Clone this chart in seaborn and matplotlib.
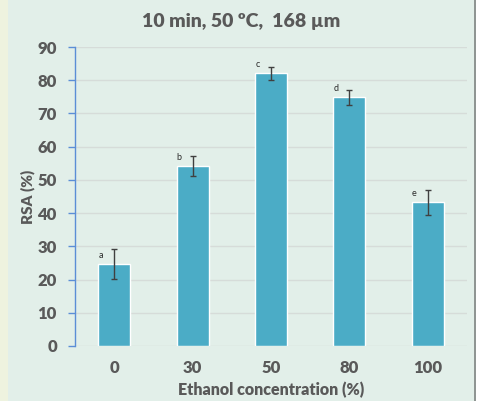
import numpy as np
import pandas as pd
import matplotlib
matplotlib.use("Agg")
import matplotlib.pyplot as plt
import seaborn as sns
from matplotlib.patches import Rectangle

# values
concentrations = ["0", "30", "50", "80", "100"]
rsa_mean = [24.7, 54.2, 82.1, 74.8, 43.2]
rsa_err = [4.4, 3.0, 2.0, 2.2, 3.7]
letters = ["a", "b", "c", "d", "e"]
y_ticks = [0, 10, 20, 30, 40, 50, 60, 70, 80, 90]

TEXT = "#595959"
BAR = "#4bacc6"
BG = "#e2efe9"
AXIS_BLUE = "#5b8ed6"

sns.set_theme(style="white")
plt.rcParams["font.family"] = ["Lato", "DejaVu Sans"]

df = pd.DataFrame({"conc": concentrations, "rsa": rsa_mean})

W, H = 479, 401
fig = plt.figure(figsize=(W / 100, H / 100), dpi=100)
fig.patch.set_facecolor(BG)

# pale strip on the left and frame on the right, like the pasted screenshot
fig.add_artist(Rectangle((0, 0), 8 / W, 1, transform=fig.transFigure,
                         facecolor="#eef3df", edgecolor="none"))
fig.add_artist(Rectangle((474 / W, 0), 2 / W, 1, transform=fig.transFigure,
                         facecolor="#8f9593", edgecolor="none"))
fig.add_artist(Rectangle((476 / W, 0), 3 / W, 1, transform=fig.transFigure,
                         facecolor="white", edgecolor="none"))

ax = fig.add_axes([75 / W, 55 / H, 392 / W, 299 / H])
ax.set_facecolor(BG)

sns.barplot(data=df, x="conc", y="rsa", color=BAR, width=0.41,
            saturation=1, errorbar=None, ax=ax, zorder=3)
ax.errorbar(np.arange(len(rsa_mean)), rsa_mean, yerr=rsa_err, fmt="none",
            ecolor="#404040", elinewidth=1, capsize=2, capthick=1, zorder=4)

for i, (v, e, lab) in enumerate(zip(rsa_mean, rsa_err, letters)):
    ax.annotate(lab, (i - 0.17, v), xytext=(0, 3), textcoords="offset points",
                ha="center", va="bottom", fontsize=6.5, color="#2b2b2b")

ax.set_xlim(-0.5, len(concentrations) - 0.5)
ax.set_ylim(0, 90)
ax.set_yticks(y_ticks)
ax.yaxis.grid(True, color="#d6dcd9", linewidth=1, zorder=0)
ax.set_axisbelow(True)

for side in ["top", "right", "bottom"]:
    ax.spines[side].set_visible(False)
ax.spines["left"].set_color(AXIS_BLUE)
ax.spines["left"].set_linewidth(1)

ax.tick_params(axis="y", left=True, length=5, width=1, color=AXIS_BLUE,
               pad=8, labelsize=12, labelcolor=TEXT)
ax.tick_params(axis="x", bottom=False, length=0, pad=10, labelsize=12,
               labelcolor=TEXT)
for lbl in ax.get_xticklabels() + ax.get_yticklabels():
    lbl.set_fontweight("heavy")

ax.set_xlabel("Ethanol concentration (%)", fontsize=11.5, fontweight="heavy",
              color=TEXT, labelpad=4)
ax.set_ylabel("RSA (%)", fontsize=11, fontweight="heavy", color=TEXT,
              labelpad=2)
fig.text(0.503, 1 - 21 / H, "10 min, 50 \u00baC,  168 \u00b5m", ha="center",
         va="center", fontsize=14, fontweight="heavy", color=TEXT)

fig.savefig("out.png", dpi=100, facecolor=fig.get_facecolor())
